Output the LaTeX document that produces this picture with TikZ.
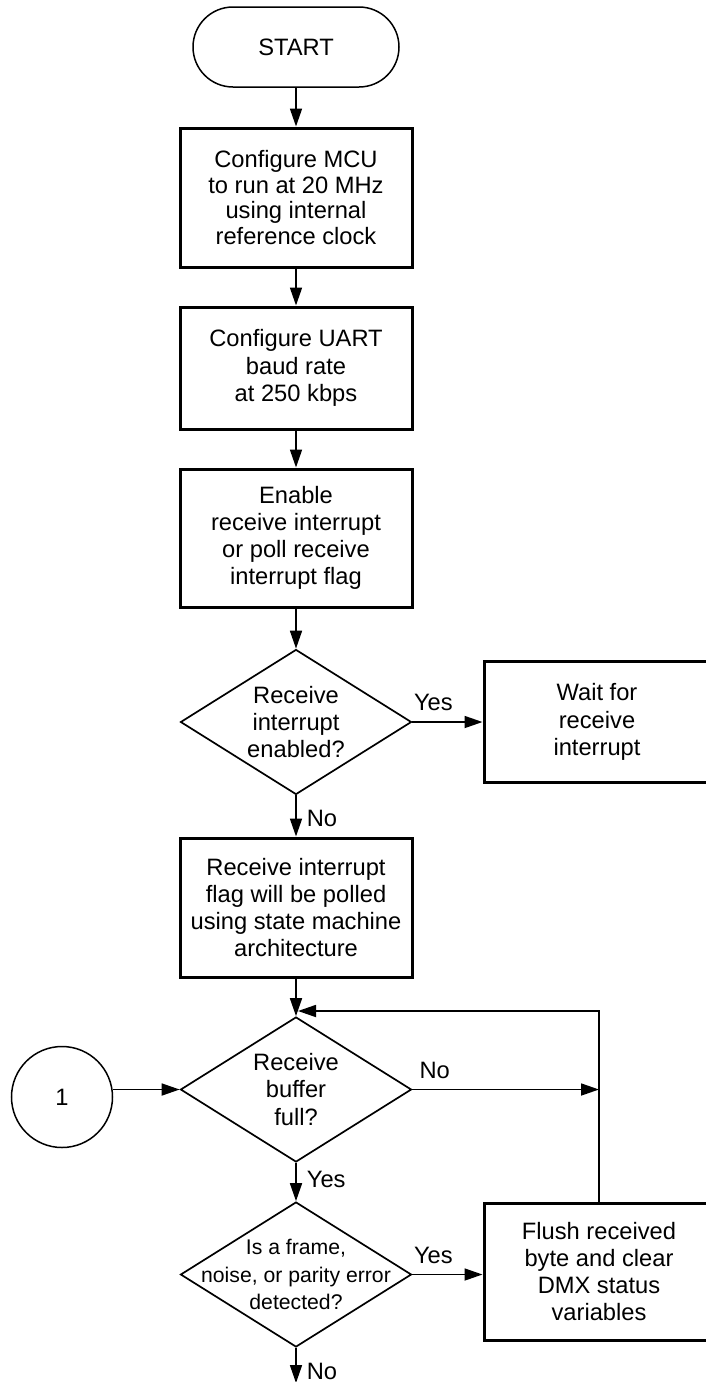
\documentclass[tikz,border=0pt]{standalone}
\usepackage{fontspec}
\setmainfont{Liberation Sans}
\usetikzlibrary{shapes.geometric,arrows.meta}

\begin{document}
\begin{tikzpicture}[x=0.5pt,y=-0.5pt,
    font=\fontsize{11.85}{13.6}\selectfont,
    every node/.style={align=center},
    term/.style={draw, line width=0.75pt, rounded corners=20pt,
      minimum width=103pt, minimum height=40pt},
    proc/.style={draw, line width=1.5pt, minimum width=116pt},
    decide/.style={draw, diamond, line width=0.85pt, aspect=1.6, inner sep=0pt,
      minimum width=115.5pt, minimum height=72.5pt},
    conn/.style={draw, circle, line width=0.75pt, minimum size=50.5pt},
    flow/.style={line width=0.85pt, -{Triangle[length=9pt,width=6pt]}},
    lbl/.style={inner sep=2pt}]

    \useasboundingbox (0,0) rectangle (706,1382);
    \clip (0,0) rectangle (706,1382);

    % Set-up steps
    \node[term] (start) at (296, 47) {START};
    \node[proc, minimum height=69.5pt, font=\fontsize{11.85}{12.9}\selectfont]
      (cfgmcu) at (296, 197.5) {Configure MCU\\to run at 20 MHz\\using internal\\reference clock};
    \node[proc, minimum height=61pt] (cfguart) at (296, 368) {Configure UART\\baud rate\\at 250 kbps};
    \node[proc, minimum height=69pt] (enrx) at (296, 538) {Enable\\receive interrupt\\or poll receive\\interrupt flag};

    \draw[flow] (start) -- (cfgmcu);
    \draw[flow] (cfgmcu) -- (cfguart);
    \draw[flow] (cfguart) -- (enrx);

    % Interrupt or polling
    \node[decide] (rxen) at (296, 722) {Receive\\interrupt\\enabled?};
    \node[proc, minimum width=113pt, minimum height=60.5pt] (waitrx) at (597, 722) {Wait for\\receive\\interrupt};
    \node[proc, minimum height=69.5pt] (pollrx) at (296, 907.5) {Receive interrupt\\flag will be polled\\using state machine\\architecture};

    \draw[flow] (enrx) -- (rxen);
    \draw[flow] (rxen) -- node[lbl, above=3pt, pos=0.3] {Yes} (waitrx);
    \draw[flow] (rxen) -- node[lbl, right=3pt, pos=0.55] {No} (pollrx);

    % Receive loop
    \node[decide] (rxfull) at (296, 1089.5) {Receive\\buffer\\full?};
    \node[conn] (c1) at (62, 1097) {1};
    \node[decide] (rxerr) at (296, 1274.5) {};
    \node[font=\fontsize{10.6}{13.8}\selectfont] (rxerrtxt) at (rxerr) {Is a frame,\\noise, or parity error\\detected?};
    \node[proc, minimum width=115pt, minimum height=68.5pt] (flush) at (599, 1271.5) {Flush received\\byte and clear\\DMX status\\variables};

    \coordinate (merge) at (298, 1011);
    \coordinate (exit) at (296, 1383);

    \draw[flow] (pollrx) -- (rxfull);
    \draw[flow] (c1.east |- rxfull.west) -- (rxfull.west);
    \draw[flow] (rxfull.east) -- node[lbl, above=3pt, pos=0.12] {No} (rxfull.east -| flush.north);
    \draw[flow] (rxfull) -- node[lbl, right=3pt, pos=0.44] {Yes} (rxerr);
    \draw[flow] (rxerr.east) -- node[lbl, above=3pt, pos=0.3] {Yes} (rxerr.east -| flush.west);
    \draw[flow] (flush.north) |- (merge);
    \draw[flow] (rxerr) -- node[lbl, right=3pt, pos=0.66] {No} (exit);

  \end{tikzpicture}
\end{document}
